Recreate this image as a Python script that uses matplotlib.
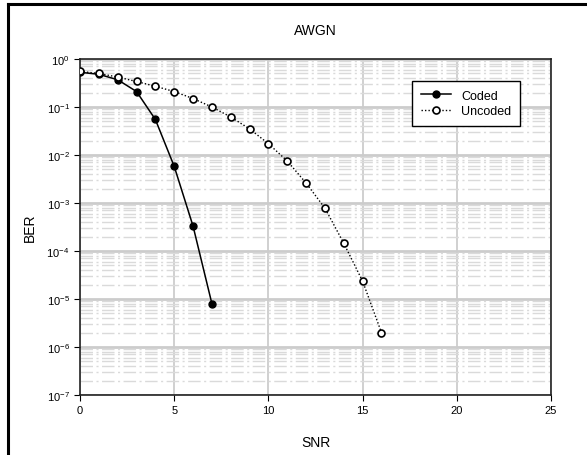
import numpy as np
import matplotlib
matplotlib.use('Agg')
import matplotlib.pyplot as plt
from matplotlib.lines import Line2D
from matplotlib.ticker import LogLocator, FixedLocator

plt.rcParams['font.family'] = ['Liberation Sans', 'DejaVu Sans']
plt.rcParams['mathtext.default'] = 'regular'

# BER vs SNR over AWGN
snr_coded = [0, 1, 2, 3, 4, 5, 6, 7]
ber_coded = [0.53, 0.48, 0.37, 0.21, 0.055, 0.0058, 3.3e-4, 8.0e-6]

snr_uncoded = [0, 1, 2, 3, 4, 5, 6, 7, 8, 9, 10, 11, 12, 13, 14, 15, 16]
ber_uncoded = [0.55, 0.50, 0.42, 0.34, 0.27, 0.21, 0.15, 0.10, 0.062, 0.035,
               0.0172, 0.0075, 0.0026, 7.8e-4, 1.45e-4, 2.35e-5, 2.0e-6]

fig = plt.figure(figsize=(5.87, 4.56), dpi=100)
ax = fig.add_axes([0.1363, 0.1316, 0.8024, 0.7368])

# cropped black frame around the figure (only left and top edges visible)
fig.add_artist(Line2D([0.0136, 0.0136], [0.0, 0.988], color='black', lw=2.2,
                      transform=fig.transFigure))
fig.add_artist(Line2D([0.0136, 1.0], [0.988, 0.988], color='black', lw=2.2,
                      transform=fig.transFigure))

ax.set_yscale('log')
ax.set_xlim(0, 25)
ax.set_ylim(1e-7, 1)
ax.set_xticks([0, 5, 10, 15, 20, 25])
ax.yaxis.set_major_locator(FixedLocator([10.0 ** k for k in range(-7, 1)]))
ax.yaxis.set_minor_locator(LogLocator(base=10, subs=np.arange(2, 10), numticks=20))

ax.grid(True, which='major', axis='y', color='#cccccc', lw=2.0)
ax.grid(True, which='major', axis='x', color='#c8c8c8', lw=1.2)
ax.grid(True, which='minor', axis='y', color='#dadada', lw=1.0,
        ls=(0, (9, 2.5, 1.5, 2.5)))
ax.set_axisbelow(True)

ax.plot(snr_coded, ber_coded, '-', color='black', lw=1.1, marker='o',
        ms=5, mfc='black', mec='black', label='Coded', zorder=3)
ax.plot(snr_uncoded, ber_uncoded, ls=(0, (1, 1.5)), color='black', lw=1.0,
        marker='o', ms=5, mfc='white', mec='black', mew=1.2,
        label='Uncoded', zorder=4)

ax.tick_params(axis='both', which='major', direction='out', length=4,
               labelsize=8, color='black')
ax.tick_params(axis='y', which='minor', length=0)
for sp in ax.spines.values():
    sp.set_linewidth(1.2)
    sp.set_color('#222222')

ax.set_title('AWGN', fontsize=10, pad=18)
ax.set_xlabel('SNR', fontsize=10, labelpad=14)
ax.set_ylabel('BER', fontsize=10, labelpad=7)

leg = ax.legend(loc='upper right', bbox_to_anchor=(0.934, 0.935), fontsize=9,
                fancybox=False, framealpha=1, edgecolor='black',
                handlelength=2.4, borderpad=0.7, labelspacing=0.3,
                borderaxespad=0)
leg.get_frame().set_linewidth(1.0)

fig.savefig('out.png', dpi=100)
